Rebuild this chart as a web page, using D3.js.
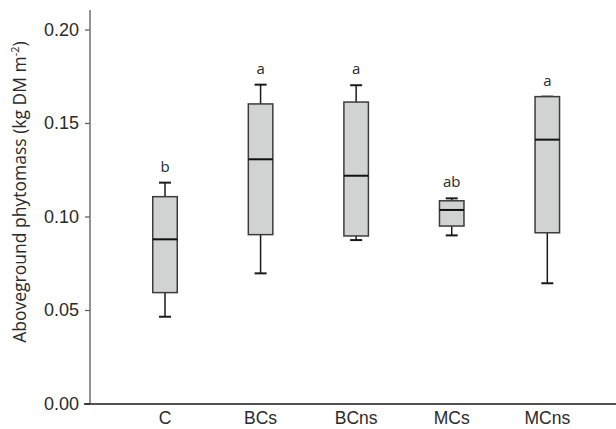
<!DOCTYPE html>
<html>
<head>
<meta charset="utf-8">
<script src="https://cdn.jsdelivr.net/npm/d3@7"></script>
<style>
  body { margin: 0; background: #fff; }
  svg { display: block; }
  .sans { font-family: 'Liberation Sans', Arial, sans-serif; }
  .open { font-family: 'Open Sans', sans-serif; }
</style>
</head>
<body>
<script>
const categories = ['C', 'BCs', 'BCns', 'MCs', 'MCns']
const whiskerLow = [0.0464, 0.0696, 0.0874, 0.0899, 0.0643]
const q1 = [0.0593, 0.0903, 0.0896, 0.0949, 0.0913]
const median = [0.0878, 0.1306, 0.1218, 0.1035, 0.1411]
const q3 = [0.1106, 0.1602, 0.1612, 0.1084, 0.1641]
const whiskerHigh = [0.1181, 0.1705, 0.1702, 0.1097, 0.1641]
const letters = ['b', 'a', 'a', 'ab', 'a']
const yTicks = [0, 0.05, 0.10, 0.15, 0.20]

const WIDTH = 616
const HEIGHT = 429
const BOX_W = 24.5
const CAP_W = 12

const boxes = categories.map((c, i) => ({
  cat: c, lo: whiskerLow[i], q1: q1[i], med: median[i], q3: q3[i], hi: whiskerHigh[i], letter: letters[i]
}))

const svg = d3.select('body').append('svg').attr('width', WIDTH).attr('height', HEIGHT)

const x = d3.scalePoint()
  .domain(categories)
  .range([165, 547.3])

const y = d3.scaleLinear()
  .domain([0, 0.2])
  .range([403.5, 29.5])

// y axis
const yAxis = svg.append('g')
  .attr('transform', 'translate(90,0)')
  .call(d3.axisLeft(y).tickValues(yTicks).tickFormat(d3.format('.2f')).tickSize(5).tickPadding(6))
yAxis.attr('font-family', null)
yAxis.select('.domain').remove()
yAxis.selectAll('.tick line').attr('stroke', '#555').attr('stroke-width', 1.2)
yAxis.selectAll('.tick text')
  .attr('class', 'sans')
  .style('font-size', '18px')
  .attr('fill', '#2a2a2a')
svg.append('line')
  .attr('x1', 90).attr('x2', 90)
  .attr('y1', 10).attr('y2', y(0))
  .attr('stroke', '#6e6e6e').attr('stroke-width', 1.5)

// x axis
svg.append('line')
  .attr('x1', 84).attr('x2', WIDTH)
  .attr('y1', y(0) + 0.5).attr('y2', y(0) + 0.5)
  .attr('stroke', '#1a1a1a').attr('stroke-width', 1.5)
svg.append('g').selectAll('text')
  .data(categories)
  .enter()
  .append('text')
  .attr('class', 'sans')
  .attr('x', d => x(d))
  .attr('y', 424)
  .attr('text-anchor', 'middle')
  .style('font-size', '17.5px')
  .attr('fill', '#2a2a2a')
  .text(d => d)

// y title
const title = svg.append('text')
  .attr('class', 'open')
  .attr('transform', 'translate(26,192) rotate(-90)')
  .attr('text-anchor', 'middle')
  .style('font-size', '17.5px')
  .attr('fill', '#2a2a2a')
title.append('tspan').text('Aboveground phytomass (kg DM m')
title.append('tspan').style('font-size', '11px').attr('dy', -7).text('-2')
title.append('tspan').attr('dy', 7).text(')')

// boxes
const g = svg.append('g').selectAll('g')
  .data(boxes)
  .enter()
  .append('g')

g.append('line')
  .attr('x1', d => x(d.cat)).attr('x2', d => x(d.cat))
  .attr('y1', d => y(d.hi)).attr('y2', d => y(d.lo))
  .attr('stroke', '#1a1a1a').attr('stroke-width', 1.5)
g.append('line')
  .attr('x1', d => x(d.cat) - CAP_W / 2).attr('x2', d => x(d.cat) + CAP_W / 2)
  .attr('y1', d => y(d.hi)).attr('y2', d => y(d.hi))
  .attr('stroke', '#1a1a1a').attr('stroke-width', 2)
g.append('line')
  .attr('x1', d => x(d.cat) - CAP_W / 2).attr('x2', d => x(d.cat) + CAP_W / 2)
  .attr('y1', d => y(d.lo)).attr('y2', d => y(d.lo))
  .attr('stroke', '#1a1a1a').attr('stroke-width', 2)
g.append('rect')
  .attr('x', d => x(d.cat) - BOX_W / 2)
  .attr('width', BOX_W)
  .attr('y', d => y(d.q3))
  .attr('height', d => y(d.q1) - y(d.q3))
  .attr('fill', '#d1d3d3')
  .attr('stroke', '#3c3c3c')
  .attr('stroke-width', 1.5)
g.append('line')
  .attr('x1', d => x(d.cat) - BOX_W / 2).attr('x2', d => x(d.cat) + BOX_W / 2)
  .attr('y1', d => y(d.med)).attr('y2', d => y(d.med))
  .attr('stroke', '#111').attr('stroke-width', 2)
g.append('text')
  .attr('class', 'open')
  .attr('x', d => x(d.cat))
  .attr('y', d => y(d.hi) - 11)
  .attr('text-anchor', 'middle')
  .style('font-size', '15px')
  .attr('fill', '#2a2a2a')
  .text(d => d.letter)
</script>
</body>
</html>
